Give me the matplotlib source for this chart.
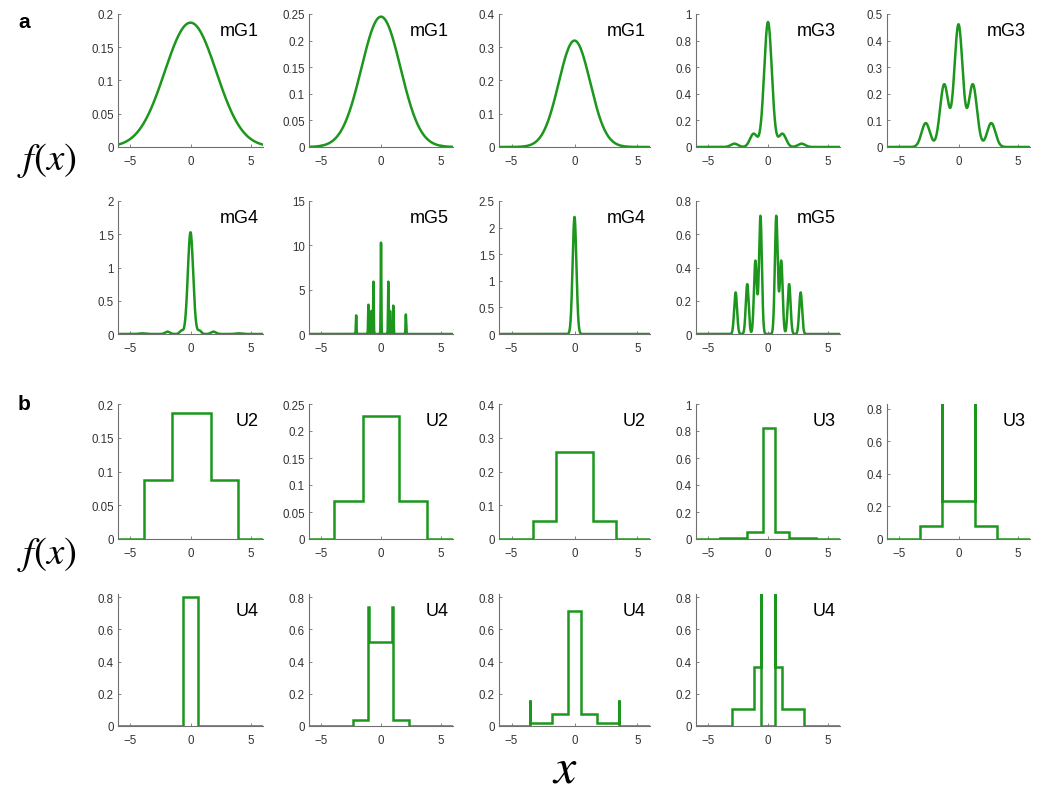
import numpy as np
import matplotlib.pyplot as plt
from matplotlib.ticker import FuncFormatter, MultipleLocator

plt.rcParams['font.family'] = ['Liberation Sans', 'DejaVu Sans']
plt.rcParams['mathtext.fontset'] = 'stix'

# ---- panel a: gaussian mixtures (centre, peak height, width)
mg_names = ['mG1', 'mG1', 'mG1', 'mG3', 'mG3', 'mG4', 'mG5', 'mG4', 'mG5']
mg_means = [
    [0.0],
    [0.0],
    [0.0],
    [-2.8, -1.2, 0.0, 1.2, 2.8],
    [-2.75, -1.2, 0.0, 1.2, 2.75],
    [-4.0, -1.9, -0.75, 0.0, 0.75, 1.9, 4.0],
    [-2.07, -1.05, -0.8, -0.63, 0.0, 0.61, 0.75, 1.02, 2.07],
    [0.0],
    [-2.7, -1.73, -1.05, -0.63, 0.69, 1.1, 1.76, 2.72],
]
mg_peaks = [
    [0.187],
    [0.245],
    [0.32],
    [0.025, 0.1, 0.94, 0.1, 0.025],
    [0.09, 0.235, 0.46, 0.235, 0.09],
    [0.01, 0.035, 0.05, 1.53, 0.05, 0.035, 0.01],
    [2.1, 3.3, 2.6, 5.9, 10.3, 5.9, 2.6, 3.2, 2.2],
    [2.2],
    [0.25, 0.30, 0.44, 0.71, 0.71, 0.44, 0.30, 0.25],
]
mg_sds = [
    [2.13],
    [1.63],
    [1.25],
    [0.3, 0.3, 0.32, 0.3, 0.3],
    [0.35, 0.35, 0.35, 0.35, 0.35],
    [0.25, 0.2, 0.15, 0.22, 0.15, 0.2, 0.25],
    [0.025] * 9,
    [0.15],
    [0.12] * 8,
]
mg_ytop = [0.2, 0.25, 0.4, 1.0, 0.5, 2.0, 15, 2.5, 0.8]
mg_ystep = [0.05, 0.05, 0.1, 0.2, 0.1, 0.5, 5, 0.5, 0.2]

# ---- panel b: piecewise uniform densities (step edges and heights)
u_names = ['U2', 'U2', 'U2', 'U3', 'U3', 'U4', 'U4', 'U4', 'U4']
u_edges = [
    [-3.86, -1.52, 1.66, 3.94],
    [-3.92, -1.5, 1.47, 3.86],
    [-3.3, -1.5, 1.5, 3.3],
    [-4.0, -1.77, -0.45, 0.55, 1.77, 4.0],
    [-3.25, -1.42, -1.38, 1.38, 1.42, 3.25],
    [-0.65, 0.65],
    [-2.35, -1.05, -0.97, 0.88, 0.96, 2.3],
    [-3.55, -3.5, -1.8, -0.53, 0.53, 1.8, 3.5, 3.55],
    [-3.0, -1.2, -0.62, -0.58, 0.58, 0.62, 1.2, 3.0],
]
u_heights = [
    [0.088, 0.187, 0.088],
    [0.07, 0.228, 0.07],
    [0.052, 0.257, 0.052],
    [0.01, 0.05, 0.82, 0.05, 0.01],
    [0.078, 2.0, 0.235, 2.0, 0.078],
    [0.8],
    [0.035, 0.74, 0.52, 0.74, 0.035],
    [0.164, 0.016, 0.076, 0.714, 0.076, 0.016, 0.164],
    [0.103, 0.365, 2.0, 0.0, 2.0, 0.365, 0.103],
]
u_ytop = [0.2, 0.25, 0.4, 1.0, 0.83, 0.82, 0.82, 0.82, 0.82]
u_ystep = [0.05, 0.05, 0.1, 0.2, 0.2, 0.2, 0.2, 0.2, 0.2]

GREEN = '#1c961c'
W, H = 1050, 804
col_left = [118, 309, 499, 696, 887]
col_w = [145, 144, 151, 144, 143]
row_top = [15, 202, 405, 595]
row_h = [133, 133, 135, 132]

fmt = FuncFormatter(lambda v, pos: ('%g' % round(v, 6)).replace('-', '\u2212'))


def make_ax(fig, r, c):
    ax = fig.add_axes([col_left[c] / W, 1 - (row_top[r] + row_h[r]) / H,
                       col_w[c] / W, row_h[r] / H])
    for s in ['top', 'right']:
        ax.spines[s].set_visible(False)
    for s in ['left', 'bottom']:
        ax.spines[s].set_color('#707070')
        ax.spines[s].set_linewidth(0.8)
    ax.tick_params(direction='in', length=2, width=0.6, color='#707070',
                   labelsize=8.3, labelcolor='#333333', pad=3)
    ax.tick_params(axis='x', pad=6)
    ax.set_xlim(-6, 6)
    ax.set_xticks([-5, 0, 5])
    ax.xaxis.set_major_formatter(fmt)
    ax.yaxis.set_major_formatter(fmt)
    return ax


fig = plt.figure(figsize=(10.5, 8.04), dpi=100)
x = np.linspace(-6, 6, 12001)

for i in range(9):
    r, c = divmod(i, 5)
    ax = make_ax(fig, r, c)
    y = np.zeros_like(x)
    for m, p, s in zip(mg_means[i], mg_peaks[i], mg_sds[i]):
        y += p * np.exp(-0.5 * ((x - m) / s) ** 2)
    ax.plot(x, y, color=GREEN, lw=1.8, solid_joinstyle='round')
    ax.set_ylim(0, mg_ytop[i])
    ax.yaxis.set_major_locator(MultipleLocator(mg_ystep[i]))
    ax.text(0.97, 0.94, mg_names[i], transform=ax.transAxes, ha='right',
            va='top', fontsize=13)

for i in range(9):
    r, c = divmod(i, 5)
    ax = make_ax(fig, r + 2, c)
    edges = [-6] + u_edges[i] + [6]
    vals = [0] + u_heights[i] + [0]
    ax.stairs(vals, edges, color=GREEN, lw=1.8, baseline=None)
    ax.set_ylim(0, u_ytop[i])
    ax.set_yticks(np.arange(0, u_ytop[i] + 1e-9, u_ystep[i]))
    ax.text(0.97, 0.94, u_names[i], transform=ax.transAxes, ha='right',
            va='top', fontsize=13)

fig.text(18 / W, 1 - 22 / H, 'a', fontsize=15, fontweight='bold', va='center')
fig.text(18 / W, 1 - 405 / H, 'b', fontsize=15, fontweight='bold', va='center')
fig.text(17 / W, 1 - 160 / H, r'$f\left(x\right)$', fontsize=28, va='center')
fig.text(17 / W, 1 - 555 / H, r'$f\left(x\right)$', fontsize=28, va='center')
fig.text(565 / W, 1 - 770 / H, r'$x$', fontsize=36, ha='center', va='center')

fig.savefig('out.png', dpi=100)
